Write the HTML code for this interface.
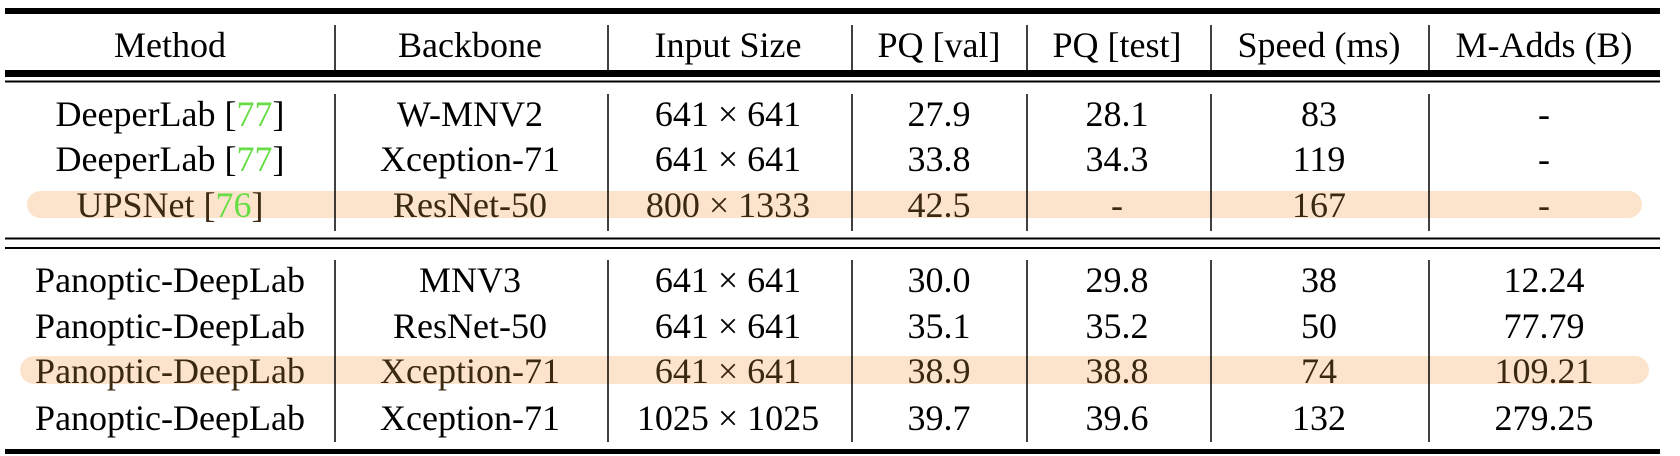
<!DOCTYPE html>
<html><head><meta charset="utf-8"><style>
html,body{margin:0;padding:0;background:#fff;}
svg{display:block;}
svg, svg text{font-family:"Liberation Serif","Times New Roman","DejaVu Serif",serif !important;font-size:36px;fill:#000;}
.hl text{fill:#3a2810;}
tspan.g{fill:#66dd44;}
</style></head><body>
<svg width="1680" height="456" viewBox="0 0 1680 456" font-family="Liberation Serif, serif">
<rect x="27" y="191" width="1615" height="27" rx="13.5" fill="#fce4cc"/>
<rect x="20" y="356" width="1629" height="28" rx="14" fill="#fce4cc"/>
<rect x="5" y="8" width="1655" height="6" fill="#000"/>
<rect x="5" y="70" width="1655" height="7" fill="#000"/>
<rect x="5" y="80.5" width="1655" height="2" fill="#000"/>
<rect x="5" y="237.5" width="1655" height="2" fill="#000"/>
<rect x="5" y="247" width="1655" height="2" fill="#000"/>
<rect x="5" y="449" width="1655" height="5" fill="#000"/>
<g stroke="#000" stroke-width="1.5">
<line x1="335" y1="25" x2="335" y2="70"/><line x1="608" y1="25" x2="608" y2="70"/><line x1="852" y1="25" x2="852" y2="70"/><line x1="1027" y1="25" x2="1027" y2="70"/><line x1="1211" y1="25" x2="1211" y2="70"/><line x1="1429" y1="25" x2="1429" y2="70"/>
<line x1="335" y1="94" x2="335" y2="231"/><line x1="608" y1="94" x2="608" y2="231"/><line x1="852" y1="94" x2="852" y2="231"/><line x1="1027" y1="94" x2="1027" y2="231"/><line x1="1211" y1="94" x2="1211" y2="231"/><line x1="1429" y1="94" x2="1429" y2="231"/>
<line x1="335" y1="260" x2="335" y2="442"/><line x1="608" y1="260" x2="608" y2="442"/><line x1="852" y1="260" x2="852" y2="442"/><line x1="1027" y1="260" x2="1027" y2="442"/><line x1="1211" y1="260" x2="1211" y2="442"/><line x1="1429" y1="260" x2="1429" y2="442"/>
</g>
<g text-anchor="middle">
<text x="170" y="57">Method</text><text x="470" y="57">Backbone</text><text x="728" y="57">Input Size</text><text x="939" y="57">PQ [val]</text><text x="1117" y="57">PQ [test]</text><text x="1319" y="57">Speed (ms)</text><text x="1544" y="57">M-Adds (B)</text>
</g>
<g text-anchor="middle">
<text x="170" y="126">DeeperLab [<tspan class="g">77</tspan>]</text><text x="470" y="126">W-MNV2</text><text x="728" y="126">641 × 641</text><text x="939" y="126">27.9</text><text x="1117" y="126">28.1</text><text x="1319" y="126">83</text><text x="1544" y="126">-</text>
</g>
<g text-anchor="middle">
<text x="170" y="171">DeeperLab [<tspan class="g">77</tspan>]</text><text x="470" y="171">Xception-71</text><text x="728" y="171">641 × 641</text><text x="939" y="171">33.8</text><text x="1117" y="171">34.3</text><text x="1319" y="171">119</text><text x="1544" y="171">-</text>
</g>
<g class="hl" text-anchor="middle">
<text x="170" y="217">UPSNet [<tspan class="g">76</tspan>]</text><text x="470" y="217">ResNet-50</text><text x="728" y="217">800 × 1333</text><text x="939" y="217">42.5</text><text x="1117" y="217">-</text><text x="1319" y="217">167</text><text x="1544" y="217">-</text>
</g>
<g text-anchor="middle">
<text x="170" y="292">Panoptic-DeepLab</text><text x="470" y="292">MNV3</text><text x="728" y="292">641 × 641</text><text x="939" y="292">30.0</text><text x="1117" y="292">29.8</text><text x="1319" y="292">38</text><text x="1544" y="292">12.24</text>
</g>
<g text-anchor="middle">
<text x="170" y="338">Panoptic-DeepLab</text><text x="470" y="338">ResNet-50</text><text x="728" y="338">641 × 641</text><text x="939" y="338">35.1</text><text x="1117" y="338">35.2</text><text x="1319" y="338">50</text><text x="1544" y="338">77.79</text>
</g>
<g class="hl" text-anchor="middle">
<text x="170" y="383">Panoptic-DeepLab</text><text x="470" y="383">Xception-71</text><text x="728" y="383">641 × 641</text><text x="939" y="383">38.9</text><text x="1117" y="383">38.8</text><text x="1319" y="383">74</text><text x="1544" y="383">109.21</text>
</g>
<g text-anchor="middle">
<text x="170" y="430">Panoptic-DeepLab</text><text x="470" y="430">Xception-71</text><text x="728" y="430">1025 × 1025</text><text x="939" y="430">39.7</text><text x="1117" y="430">39.6</text><text x="1319" y="430">132</text><text x="1544" y="430">279.25</text>
</g>
</svg>
</body></html>
